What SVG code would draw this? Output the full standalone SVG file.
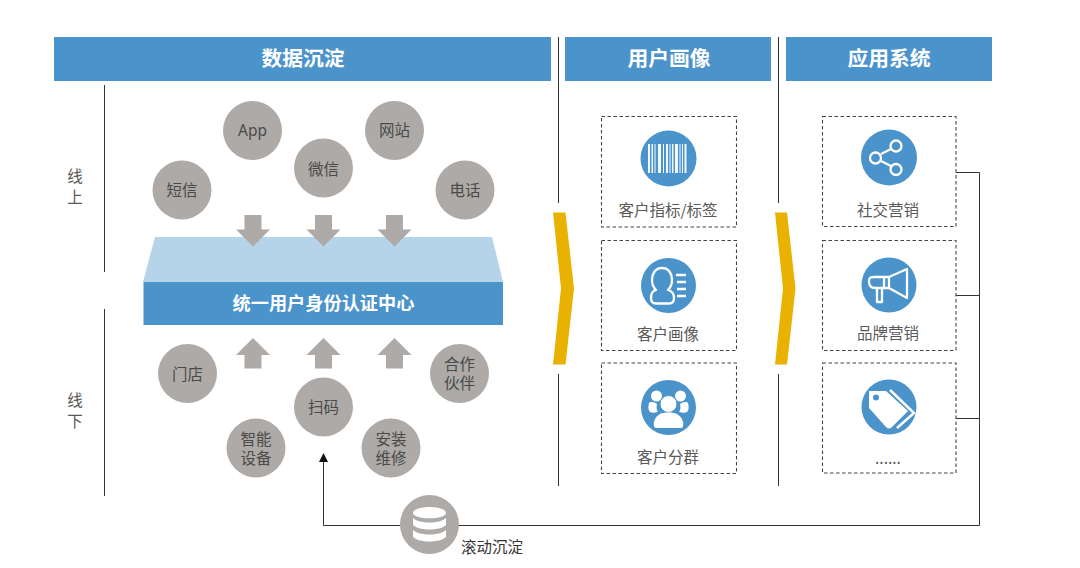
<svg xmlns="http://www.w3.org/2000/svg" width="1080" height="568" viewBox="0 0 1080 568">
<defs>
<style>
text{font-family:"Noto Sans CJK SC","Liberation Sans",sans-serif;text-anchor:middle}
.hd{fill:#4b93cb}
.ht{fill:#fff;font-size:20.800px;font-weight:700}
.ct{fill:#fff;font-size:18.200px;font-weight:700}
.g{fill:#adaaa8}
.gt{fill:#4a4a4a;font-size:15.500px}
.lbl{fill:#595959;font-size:15.500px}
.dk{fill:#333;font-size:15.500px}
.app{fill:#4a4a4a;font-size:15.500px;font-family:"Noto Sans",sans-serif}
.box{fill:#fff;stroke:#444;stroke-width:1.100;stroke-dasharray:3.500 2.500}
.line{fill:none;stroke:#333;stroke-width:1}
.ic{fill:none;stroke:#fff;stroke-width:2.300}
.w{fill:#fff}
.y{fill:#e9b200}
</style>
<marker id="ah" markerUnits="userSpaceOnUse" markerWidth="9" markerHeight="9" refX="0" refY="4.500" orient="auto"><path d="M0 0L9 4.500L0 9Z" fill="#111"/></marker>
<path id="down" d="M-8.500 0H8.500V14.500H17L0 31.500L-17 14.500H-8.500Z" class="g"/>
<path id="up" d="M0 0L17 17H8.500V30.500H-8.500V17H-17Z" class="g"/>
</defs>
<rect width="1080" height="568" fill="#fff"/>
<g id="connectors">
<path class="line" d="M104.500 85V272M104.500 309V496M558.500 37V203M558.500 374V486M778.500 37V203M778.500 374V486"/>
<path class="line" d="M956 172.500H979.500V525.500H323.500V462" marker-end="url(#ah)"/>
<path class="line" d="M956 295.500H979.500M956 418.500H979.500"/>
</g>
<g id="header-1"><rect class="hd" x="54" y="37" width="497" height="44"/><text class="ht" x="303" y="66">数据沉淀</text></g>
<g id="header-2"><rect class="hd" x="565" y="37" width="206" height="44"/><text class="ht" x="669" y="66">用户画像</text></g>
<g id="header-3"><rect class="hd" x="786" y="37" width="206" height="44"/><text class="ht" x="889" y="66">应用系统</text></g>
<g id="online"><text class="lbl" x="75" y="182"><tspan x="75">线</tspan><tspan x="75" dy="21">上</tspan></text></g>
<g id="offline"><text class="lbl" x="75" y="406"><tspan x="75">线</tspan><tspan x="75" dy="21">下</tspan></text></g>
<g id="n-app"><circle class="g" cx="252.500" cy="130.500" r="29.500"/><text class="app" x="252.500" y="136">App</text></g>
<g id="n-site"><circle class="g" cx="394.500" cy="130.500" r="29.500"/><text class="gt" x="394.500" y="136">网站</text></g>
<g id="n-wechat"><circle class="g" cx="323.500" cy="168" r="29.500"/><text class="gt" x="323.500" y="174.500">微信</text></g>
<g id="n-sms"><circle class="g" cx="182" cy="190" r="29.500"/><text class="gt" x="182" y="195.500">短信</text></g>
<g id="n-phone"><circle class="g" cx="465" cy="190" r="29.500"/><text class="gt" x="465" y="195.500">电话</text></g>
<g id="center">
<path d="M155 237H492L503 282H143Z" fill="#b5d3e9"/>
<rect class="hd" x="143.500" y="282" width="359.500" height="43"/>
<text class="ct" x="323.500" y="310">统一用户身份认证中心</text>
</g>
<g id="arrows-down"><use href="#down" x="253" y="215"/><use href="#down" x="323.500" y="215"/><use href="#down" x="394.500" y="215"/></g>
<g id="arrows-up"><use href="#up" x="253" y="338"/><use href="#up" x="323.500" y="338"/><use href="#up" x="394.500" y="338"/></g>
<g id="n-store"><circle class="g" cx="187.500" cy="373.500" r="29.500"/><text class="gt" x="187.500" y="379.500">门店</text></g>
<g id="n-partner"><circle class="g" cx="459.500" cy="373.500" r="29.500"/><text class="gt" y="370"><tspan x="459.500">合作</tspan><tspan x="459.500" dy="19">伙伴</tspan></text></g>
<g id="n-scan"><circle class="g" cx="323.500" cy="407" r="29.500"/><text class="gt" x="323.500" y="412.500">扫码</text></g>
<g id="n-smart"><circle class="g" cx="256" cy="448" r="29.500"/><text class="gt" y="444.500"><tspan x="256">智能</tspan><tspan x="256" dy="19">设备</tspan></text></g>
<g id="n-install"><circle class="g" cx="391" cy="448" r="29.500"/><text class="gt" y="444.500"><tspan x="391">安装</tspan><tspan x="391" dy="19">维修</tspan></text></g>
<g id="n-sink">
<circle class="g" cx="429.500" cy="524.500" r="29.500"/>
<path class="w" d="M413 513C413 505 446 505 446 513C446 520 413 520 413 513ZM413 518C419 524 440 524 446 518V525C440 531 419 531 413 525ZM413 530C419 536 440 536 446 530V537C440 543 419 543 413 537Z"/>
<text class="dk" x="492" y="553">滚动沉淀</text>
</g>
<path id="chevron-1" class="y" d="M553 212.500H565.500L574 288.500L565.500 364.500H553L561 288.500Z"/>
<path id="chevron-2" class="y" d="M775 212.500H787L795.500 288.500L787 364.500H775L783 288.500Z"/>
<g id="c-metric">
<rect class="box" x="601.500" y="116.500" width="135" height="110.500"/>
<circle class="hd" cx="668.500" cy="158.500" r="28"/>
<path fill="#fff" fill-opacity=".92" d="M648 144h2v29h-2zM651.500 144h1.500v29h-1.500zM654.500 144h1v29h-1zM658 144h3v29h-3zM663 144h1v29h-1zM666 144h2v29h-2zM669.500 144h1v29h-1zM672 144h1.500v29h-1.500zM675 144h3v29h-3zM679.500 144h1v29h-1zM682 144h1v29h-1zM684.500 144h2v29h-2z"/>
<text class="lbl" x="668" y="215.500">客户指标/标签</text>
</g>
<g id="c-portrait">
<rect class="box" x="601.500" y="240.500" width="135" height="110"/>
<circle class="hd" cx="668.500" cy="285.500" r="27.500"/>
<path class="ic" d="M662 268C655 268 652 274 652 280C652 285 654 288 656 290C652 291 651 294 651 298C651 302 653 303.500 656 303.500H669C672 303.500 674 302 674 298C674 294 672 291 668 290C670 288 672 285 672 280C672 274 669 268 662 268Z" stroke-linejoin="round"/>
<path class="ic" d="M676 275H686M677 282H686M677 289H686M677 296H686"/>
<text class="lbl" x="668" y="339.500">客户画像</text>
</g>
<g id="c-group">
<rect class="box" x="601.500" y="363" width="135" height="110.500"/>
<circle class="hd" cx="668.500" cy="407.500" r="27.500"/>
<circle class="w" cx="656.500" cy="396" r="5.500"/><circle class="w" cx="680.500" cy="396" r="5.500"/>
<path class="w" d="M649 403C650 401 655 402 657 404C656 408 657 411 658 412C654 413 652 413 650 412C648 410 648 406 649 403ZM688 403C687 401 682 402 680 404C681 408 680 411 679 412C683 413 685 413 687 412C689 410 689 406 688 403Z"/>
<circle class="w" cx="668.500" cy="404" r="8.500" stroke="#4b93cb" stroke-width="1"/>
<path class="w" d="M660 414C664 412 673 412 677 414C682 417 684 422 683 426C683 428 681 428 679 428H658C656 428 654 428 654 426C653 422 655 417 660 414Z"/>
<text class="lbl" x="668" y="462.500">客户分群</text>
</g>
<g id="a-social">
<rect class="box" x="822.500" y="116.500" width="133.500" height="110"/>
<circle class="hd" cx="889" cy="157.500" r="28"/>
<path class="ic" d="M881 154L891 149M881 161L891 166"/>
<circle class="ic" cx="896" cy="146" r="5.500"/><circle class="ic" cx="875.500" cy="158" r="5.500"/><circle class="ic" cx="896" cy="169.500" r="5.500"/>
<text class="lbl" x="888" y="215.500">社交营销</text>
</g>
<g id="a-brand">
<rect class="box" x="822.500" y="240.500" width="133.500" height="110"/>
<circle class="hd" cx="889" cy="285" r="27.500"/>
<path class="ic" stroke-linejoin="round" d="M907 269V298L889 288H875C871 288 869 285 869 281C869 277 871 277 875 277H889ZM889 277V288M884 277V288M877 288V302H882V288"/>
<text class="lbl" x="888" y="338.500">品牌营销</text>
</g>
<g id="a-more">
<rect class="box" x="822.500" y="363" width="133.500" height="110"/>
<circle class="hd" cx="889" cy="407" r="27.500"/>
<path class="w" d="M869 391H886L908 411L892 427C890 429 888 429 886 427L869 408Z"/>
<path fill="none" stroke="#fff" stroke-width="2.500" d="M890 390L914 413L897 428"/>
<circle class="hd" cx="876" cy="397.500" r="3"/>
<text class="lbl" x="888" y="464">......</text>
</g>
</svg>
